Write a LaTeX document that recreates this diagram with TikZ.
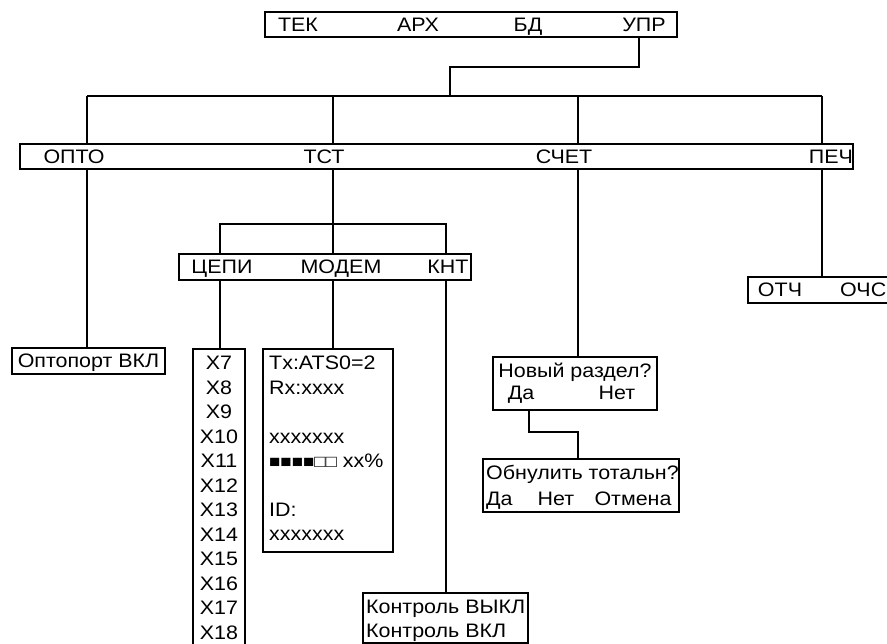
\documentclass[tikz,border=0pt]{standalone}
\usepackage{fontspec}
\setmainfont{Liberation Sans}[FakeStretch=1.1]
\usetikzlibrary{positioning}

\begin{document}
\begin{tikzpicture}[x=1pt, y=-1pt,
    menubox/.style={draw, line width=1.3pt, inner sep=0pt},
    item/.style={inner sep=0pt, text height=13.6pt, text depth=0pt, font=\fontsize{19.5}{24}\selectfont},
    link/.style={line width=1.3pt}]
\useasboundingbox (0,0) rectangle (887,644);

\node[menubox, minimum width=412, minimum height=25] (topmenu) at (471,24.5) {};
\node[item] (tek) at (298,24.5) {ТЕК};
\node[item] (arh) at (418,24.5) {АРХ};
\node[item] (bd) at (528,24.5) {БД};
\node[item] (upr) at (644,24.5) {УПР};

\node[menubox, minimum width=833, minimum height=25] (mainmenu) at (436.5,156.5) {};
\node[item] (opto) at (74,156.5) {ОПТО};
\node[item] (tst) at (324,156.5) {ТСТ};
\node[item] (schet) at (564,156.5) {СЧЕТ};
\node[item] (pech) at (831,156.5) {ПЕЧ};

\node[menubox, minimum width=292, minimum height=26] (tstmenu) at (325,267) {};
\node[item] (cepi) at (222,267) {ЦЕПИ};
\node[item] (modemitem) at (341,267) {МОДЕМ};
\node[item] (knt) at (448,267) {КНТ};

\node[menubox, minimum width=162, minimum height=26] (otch) at (829,290) {};
\node[item] (otchitem) at (780,290) {ОТЧ};
\node[item, anchor=west] (ochs) at (840,290) {ОЧС};

\node[menubox, item, minimum width=153, minimum height=26] (optoport) at (88.5,361) {Оптопорт ВКЛ};

\node[menubox, minimum width=52, minimum height=320] (xcol) at (219,509) {};
\foreach \n [count=\i from 0] in {7,...,18}
    \node[item] (x\n) at (219,363+24.5*\i) {X\n};

\node[menubox, minimum width=130, minimum height=203] (modem) at (328,450.5) {};
\node[item, anchor=west] (tx) at (269,363) {Tx:ATS0=2};
\node[item, anchor=west] (rx) at (269,388) {Rx:xxxx};
\node[item, anchor=west] (level) at (269,437) {xxxxxxx};
\node[item, anchor=west] (bar) at (269,461) {{\fontsize{17}{15}\selectfont ■■■■□□} xx\%};
\node[item, anchor=west] (id) at (269,510) {ID:};
\node[item, anchor=west] (idval) at (269,534) {xxxxxxx};

\node[menubox, minimum width=164, minimum height=53] (newsec) at (575,383.5) {};
\node[item] (newq) at (575,371) {Новый раздел?};
\node[item] (newyes) at (521,393) {Да};
\node[item] (newno) at (617,393) {Нет};

\node[menubox, minimum width=196, minimum height=53] (reset) at (581,485.5) {};
\node[item, anchor=west] (resetq) at (486,473) {Обнулить тотальн?};
\node[item, anchor=west] (resetyes) at (486,499) {Да};
\node[item] (resetno) at (556,499) {Нет};
\node[item] (resetcancel) at (633,499) {Отмена};

\node[menubox, minimum width=165, minimum height=50] (kontrol) at (445.5,618) {};
\node[item, anchor=west] (koff) at (366,607) {Контроль ВЫКЛ};
\node[item, anchor=west] (kon) at (366,631) {Контроль ВКЛ};

\coordinate (uprtap) at (639,67);
\coordinate (upbus) at (450,96);
\draw[link] (uprtap |- topmenu.south) -- (uprtap) -| (upbus);
\coordinate (tapopto) at (87,96);
\coordinate (taptst) at (333,96);
\coordinate (tapschet) at (578,96);
\coordinate (tappech) at (822,96);
\draw[link] (tapopto) -- (tappech);
\foreach \t in {opto,tst,schet,pech}
    \draw[link] (tap\t) -- (tap\t |- mainmenu.north);

\draw[link] (tapopto |- mainmenu.south) -- (tapopto |- optoport.north);
\draw[link] (tapschet |- mainmenu.south) -- (tapschet |- newsec.north);
\draw[link] (tappech |- mainmenu.south) -- (tappech |- otch.north);

\coordinate (tapcepi) at (220,224);
\coordinate (tapknt) at (446,224);
\draw[link] (taptst |- mainmenu.south) -- (taptst |- tstmenu.north);
\draw[link] (tapcepi |- tstmenu.north) -- (tapcepi) -- (tapknt) -- (tapknt |- tstmenu.north);
\draw[link] (tapcepi |- tstmenu.south) -- (tapcepi |- xcol.north);
\draw[link] (taptst |- tstmenu.south) -- (taptst |- modem.north);
\draw[link] (tapknt |- tstmenu.south) -- (tapknt |- kontrol.north);

\coordinate (yesbend) at (529,432);
\draw[link] (yesbend |- newsec.south) -- (yesbend) -| (tapschet |- reset.north);
\end{tikzpicture}
\end{document}
